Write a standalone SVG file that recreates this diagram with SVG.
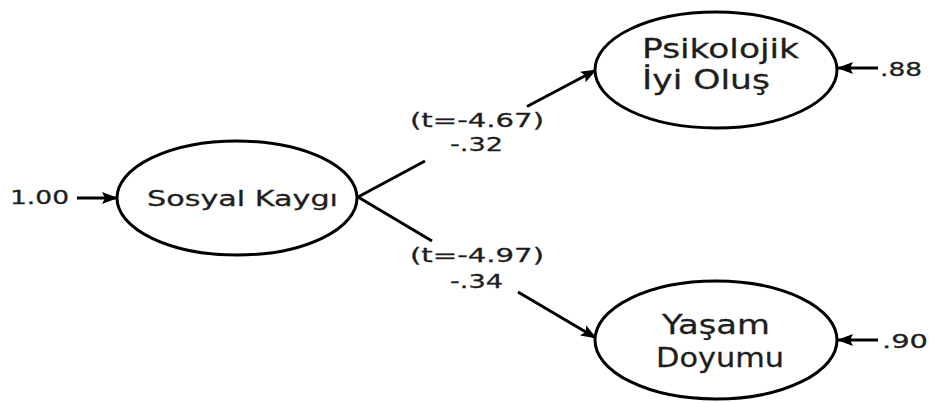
<svg xmlns="http://www.w3.org/2000/svg" width="930" height="403" viewBox="0 0 930 403">
<style>
.n{fill:#fff;stroke:#000;stroke-width:3}
.c{stroke:#000;stroke-width:3;fill:none}
text{font-family:"DejaVu Sans",Verdana,sans-serif;fill:#1e1e1e;stroke:#1e1e1e;stroke-width:0.3}
.big{font-size:27px}
.mid{font-size:21px}
.lab{font-size:20px}
</style>
<defs>
<marker id="ah" viewBox="0 0 16 12" refX="15" refY="6" markerWidth="16" markerHeight="12" markerUnits="userSpaceOnUse" orient="auto">
<path d="M0,0 L16,6 L0,12 L3,6 Z" fill="#000"/>
</marker>
</defs>
<g id="connectors">
<path class="c" d="M358,197 L425,161"/>
<path class="c" d="M527,106.5 L596,70" marker-end="url(#ah)"/>
<path class="c" d="M358,197 L432,241"/>
<path class="c" d="M518,292 L596,338" marker-end="url(#ah)"/>
<path class="c" d="M77,198 L117,198" marker-end="url(#ah)"/>
<path class="c" d="M878,68 L838,68" marker-end="url(#ah)"/>
<path class="c" d="M878,340 L838,340" marker-end="url(#ah)"/>
</g>
<g id="sosyal">
<ellipse class="n" cx="237" cy="198" rx="120" ry="57"/>
<text class="mid" x="147" y="206" textLength="191" lengthAdjust="spacingAndGlyphs">Sosyal Kaygı</text>
</g>
<g id="psikolojik">
<ellipse class="n" cx="716" cy="70" rx="121" ry="58"/>
<text class="big" x="642" y="58" textLength="157" lengthAdjust="spacingAndGlyphs">Psikolojik</text>
<text class="big" x="642" y="89" textLength="128" lengthAdjust="spacingAndGlyphs">İyi Oluş</text>
</g>
<g id="yasam">
<ellipse class="n" cx="716" cy="340" rx="121" ry="59"/>
<text class="big" x="662" y="334" textLength="108" lengthAdjust="spacingAndGlyphs">Yaşam</text>
<text class="big" x="656" y="367" textLength="128" lengthAdjust="spacingAndGlyphs">Doyumu</text>
</g>
<g id="labels">
<text class="lab" x="410" y="127" textLength="134" lengthAdjust="spacingAndGlyphs">(t=-4.67)</text>
<text class="lab" x="450" y="151" textLength="53" lengthAdjust="spacingAndGlyphs">-.32</text>
<text class="lab" x="410" y="262" textLength="134" lengthAdjust="spacingAndGlyphs">(t=-4.97)</text>
<text class="lab" x="450" y="288" textLength="53" lengthAdjust="spacingAndGlyphs">-.34</text>
<text class="lab" x="10" y="204" textLength="59" lengthAdjust="spacingAndGlyphs">1.00</text>
<text class="lab" x="880" y="76" textLength="42" lengthAdjust="spacingAndGlyphs">.88</text>
<text class="lab" x="882" y="348" textLength="46" lengthAdjust="spacingAndGlyphs">.90</text>
</g>
</svg>
